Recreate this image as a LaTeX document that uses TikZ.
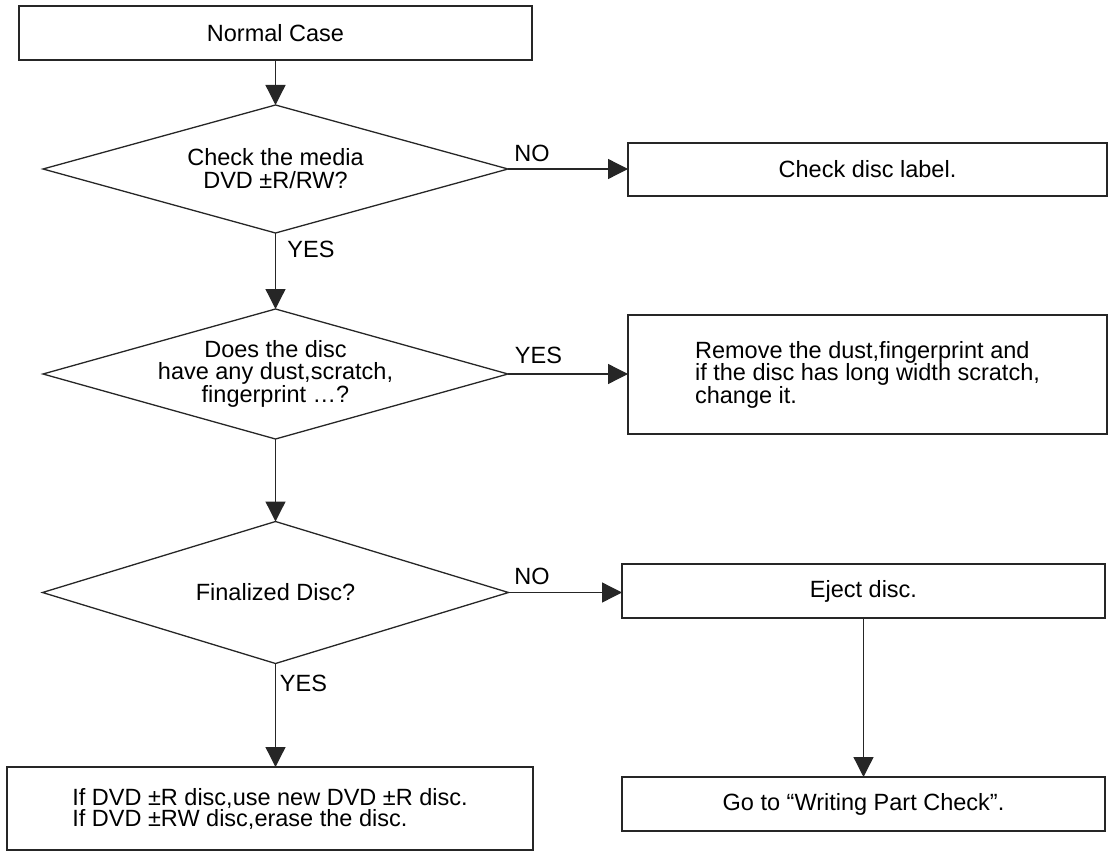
\documentclass[tikz,border=0pt]{standalone}
\usepackage{fontspec}
\setmainfont{Liberation Sans}
\usetikzlibrary{shapes.geometric,arrows.meta}
\begin{document}
\begin{tikzpicture}[x=1pt,y=-1pt,
  box/.style={draw=black!85, line width=1.6pt, rectangle, inner sep=0pt, outer sep=0pt, font=\fontsize{23.5}{23}\selectfont},
  dec/.style={draw=black!85, line width=1.3pt, diamond, inner sep=0pt, outer sep=0pt},
  dtext/.style={align=center, inner sep=0pt, font=\fontsize{23.5}{22}\selectfont},
  arr/.style={draw=black!85, line width=1.3pt, -{Triangle[length=20pt,width=20pt]}},
  lab/.style={font=\fontsize{23.5}{23}\selectfont, inner sep=0pt}]
\useasboundingbox (0,0) rectangle (1110,853);
\node[box, minimum width=513pt, minimum height=54pt] (start) at (275.5,33) {Normal Case};
\node[dec, minimum width=465pt, minimum height=128pt] (d1) at (275.5,169) {};
\node[dtext, font=\fontsize{23.5}{23}\selectfont] (d1t) at (d1.center) {Check the media\\DVD ±R/RW?};
\node[box, minimum width=479pt, minimum height=53pt] (label) at (867.5,169.5) {Check disc label.};
\node[dec, minimum width=465pt, minimum height=130pt] (d2) at (275.5,374) {};
\node[dtext, font=\fontsize{23.5}{21.5}\selectfont] (d2t) at (d2.center) {Does the disc\\have any dust,scratch,\\fingerprint …?};
\node[box, minimum width=479pt, minimum height=119pt, align=left, font=\fontsize{23.5}{22.5}\selectfont] (dust) at (867.5,374.5) {Remove the dust,fingerprint and\\if the disc has long width scratch,\\change it.};
\node[dec, minimum width=466pt, minimum height=142pt] (d3) at (275.5,592.5) {};
\node[dtext] (d3t) at (d3.center) {Finalized Disc?};
\node[box, minimum width=483pt, minimum height=54pt] (eject) at (863.5,591) {Eject disc.};
\node[box, minimum width=483pt, minimum height=54pt] (goto) at (863.5,804) {Go to “Writing Part Check”.};
\node[box, minimum width=526pt, minimum height=83pt, align=left, font=\fontsize{23.5}{19.5}\selectfont] (erase) at (270,808.5) {If DVD ±R disc,use new DVD ±R disc.\\If DVD ±RW disc,erase the disc.};
\draw[arr] (start.south) -- (d1.north);
\draw[arr] (d1.east) -- (d1.east -| label.west);
\draw[arr] (d1.south) -- (d2.north);
\draw[arr] (d2.east) -- (d2.east -| dust.west);
\draw[arr] (d2.south) -- (d3.north);
\draw[arr] (d3.east) -- (d3.east -| eject.west);
\draw[arr] (d3.south) -- (d3.south |- erase.north);
\draw[arr] (eject.south) -- (goto.north);
\node[lab] (no1) at (532,153) {NO};
\node[lab] (yes1) at (311,249) {YES};
\node[lab] (yes2) at (538.5,355) {YES};
\node[lab] (no3) at (532,576) {NO};
\node[lab] (yes3) at (303.5,683) {YES};
\end{tikzpicture}
\end{document}
